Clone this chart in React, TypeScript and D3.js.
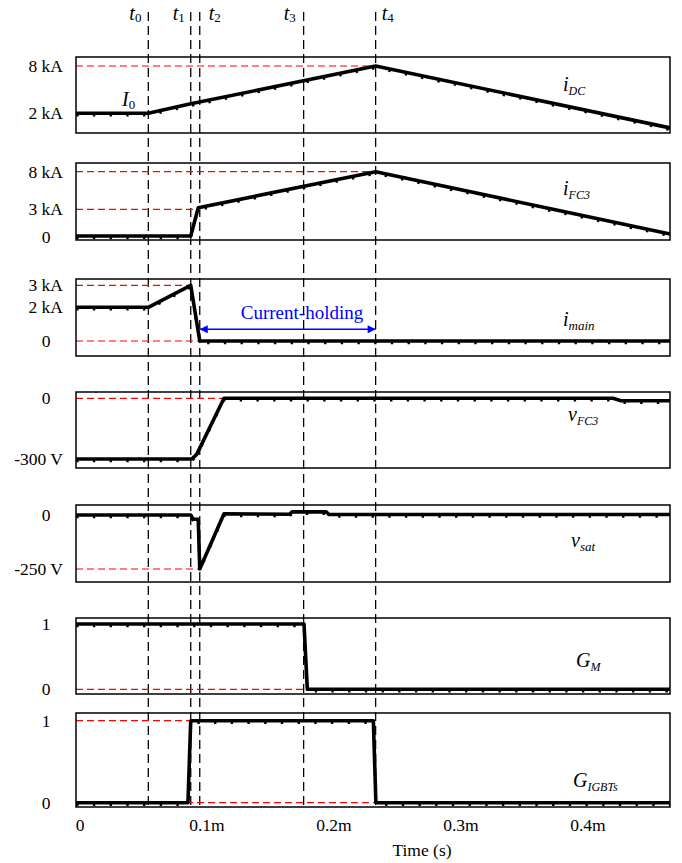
import React from "react";
import * as d3 from "d3";

const W = 682;
const H = 863;
const X_LEFT = 76;
const X_RIGHT = 670;
const T_MIN = -0.00315;
const T_MAX = 0.4646;

// time markers (ms)
const timeMarks = [0.0538, 0.0872, 0.0943, 0.1761, 0.2328];
const timeMarkSubs = ["0", "1", "2", "3", "4"];
const timeMarkLabelOffsets = [-19, -18, 9, -20, 6];

const xTickValues = [0, 0.1, 0.2, 0.3, 0.4];
const xTickLabels = ["0", "0.1m", "0.2m", "0.3m", "0.4m"];

// series data [time (ms), value]
const iDC: [number, number][] = [[-0.003, 2], [0.0538, 2], [0.0872, 3.2], [0.2328, 8], [0.4646, 0.15]];
const iFC3: [number, number][] = [[-0.003, 0.05], [0.0872, 0.05], [0.0931, 3.2], [0.2328, 8], [0.3724, 3], [0.4646, 0.28]];
const iMain: [number, number][] = [[-0.003, 2], [0.0538, 2], [0.0872, 3], [0.0943, 0], [0.4646, 0]];
const vFC3: [number, number][] = [[-0.003, -300], [0.088, -300], [0.0919, -277], [0.1134, 0], [0.4197, 0], [0.426, -12], [0.4646, -12]];
const vSat: [number, number][] = [[-0.003, -2], [0.0872, -2], [0.0892, -22], [0.0931, -22], [0.0943, -250], [0.1134, 3], [0.165, 1], [0.167, 12], [0.194, 12], [0.196, 0], [0.4646, 0]];
const gM: [number, number][] = [[-0.003, 1], [0.1764, 1], [0.179, 0], [0.4646, 0]];
const gIGBTs: [number, number][] = [[-0.003, 0], [0.085, 0], [0.0872, 1], [0.231, 1], [0.233, 0], [0.4646, 0]];

const panels = [
  {
    data: iDC, top: 57, bottom: 133, yDomain: [2, 8], yRange: [113.3, 66],
    ticks: [{ v: 8, l: "8 kA" }, { v: 2, l: "2 kA" }],
    refs: [{ v: 8, t: 0.2328 }],
    name: "i", sub: "DC", lx: 563, ly: 91, subSize: 12,
  },
  {
    data: iFC3, top: 163, bottom: 240, yDomain: [0, 3, 8], yRange: [236.5, 209.3, 171.7],
    ticks: [{ v: 8, l: "8 kA" }, { v: 3, l: "3 kA" }, { v: 0, l: "0" }],
    refs: [{ v: 8, t: 0.2328 }, { v: 3, t: 0.0943 }],
    name: "i", sub: "FC3", lx: 563, ly: 195, subSize: 12,
  },
  {
    data: iMain, top: 279, bottom: 356, yDomain: [0, 2, 3], yRange: [341, 307.3, 285.3],
    ticks: [{ v: 3, l: "3 kA" }, { v: 2, l: "2 kA" }, { v: 0, l: "0" }],
    refs: [{ v: 3, t: 0.0872 }, { v: 0, t: 0.0943 }],
    name: "i", sub: "main", lx: 563, ly: 326, subSize: 13,
  },
  {
    data: vFC3, top: 392, bottom: 468, yDomain: [-300, 0], yRange: [459, 398.3],
    ticks: [{ v: 0, l: "0" }, { v: -300, l: "-300 V" }],
    refs: [{ v: 0, t: 0.1134 }],
    name: "v", sub: "FC3", lx: 568, ly: 421, subSize: 12,
  },
  {
    data: vSat, top: 505, bottom: 582, yDomain: [-250, 0], yRange: [569, 514.5],
    ticks: [{ v: 0, l: "0" }, { v: -250, l: "-250 V" }],
    refs: [{ v: -250, t: 0.0943 }],
    name: "v", sub: "sat", lx: 571, ly: 547, subSize: 13,
  },
  {
    data: gM, top: 618, bottom: 694, yDomain: [0, 1], yRange: [689.3, 624],
    ticks: [{ v: 1, l: "1" }, { v: 0, l: "0" }],
    refs: [{ v: 0, t: 0.1761 }],
    name: "G", sub: "M", lx: 576, ly: 667, subSize: 12,
  },
  {
    data: gIGBTs, top: 713, bottom: 807, yDomain: [0, 1], yRange: [802.7, 720.7],
    ticks: [{ v: 1, l: "1" }, { v: 0, l: "0" }],
    refs: [{ v: 1, t: 0.0872 }, { v: 0, t: 0.2328 }],
    name: "G", sub: "IGBTs", lx: 573, ly: 787, subSize: 12,
  },
];

const FONT = '"Liberation Serif", "Times New Roman", Times, serif';
const tStyle: React.CSSProperties = { fontFamily: FONT };

export default function App() {
  const x = d3.scaleLinear().domain([T_MIN, T_MAX]).range([X_LEFT, X_RIGHT]);
  const lineTop = 12;
  const lineBottom = panels[panels.length - 1].bottom;

  return (
    <svg width={W} height={H} style={{ position: "absolute", left: 0, top: 0, background: "#fff", fontFamily: FONT }}>
      <rect x={0} y={0} width={W} height={H} fill="#fff" />
      {timeMarks.map((t, i) => (
        <g key={"tm" + i}>
          <line x1={x(t)} x2={x(t)} y1={lineTop} y2={lineBottom} stroke="#000" strokeWidth={1.3} strokeDasharray="9 5" />
          <text x={x(t) + timeMarkLabelOffsets[i]} y={20} fontSize={20} fontStyle="italic" style={tStyle}>
            t<tspan fontSize={13} fontStyle="normal" dy={2}>{timeMarkSubs[i]}</tspan>
          </text>
        </g>
      ))}
      {panels.map((p, pi) => {
        const y = d3.scaleLinear().domain(p.yDomain).range(p.yRange);
        const line = d3.line<[number, number]>().x((d) => x(d[0])).y((d) => y(d[1]));
        const path = line(p.data) || "";
        return (
          <g key={"p" + pi}>
            {p.refs.map((r, ri) => (
              <line key={"r" + ri} x1={X_LEFT} x2={x(r.t)} y1={y(r.v)} y2={y(r.v)} stroke="#ff0000" strokeWidth={1.2} strokeDasharray="7 4" />
            ))}
            <rect x={X_LEFT} y={p.top} width={X_RIGHT - X_LEFT} height={p.bottom - p.top} fill="none" stroke="#000" strokeWidth={1.5} />
            <path d={path} fill="none" stroke="#000" strokeWidth={3.6} strokeLinejoin="round" />
            <path d={path} transform="translate(0,2)" fill="none" stroke="#000" strokeWidth={2.4} strokeDasharray="2.4 14.3" />
            {p.ticks.map((tk, ti) => {
              const isBare = tk.l === "0" || tk.l === "1";
              return (
                <text key={"tk" + ti} x={isBare ? 46 : 63} y={y(tk.v)} dy="0.35em" textAnchor={isBare ? "middle" : "end"} fontSize={17.5} style={tStyle}>
                  {tk.l}
                </text>
              );
            })}
            <text x={p.lx} y={p.ly} fontSize={20} fontStyle="italic" style={tStyle}>
              {p.name}
              <tspan fontSize={p.subSize} dy={4}>{p.sub}</tspan>
            </text>
          </g>
        );
      })}
      <text x={122} y={106} fontSize={20} fontStyle="italic" style={tStyle}>
        I<tspan fontSize={13} fontStyle="normal" dy={3}>0</tspan>
      </text>
      <defs>
        <marker id="arrB" viewBox="0 0 10 10" refX={10} refY={5} markerWidth={10} markerHeight={8} orient="auto-start-reverse" markerUnits="userSpaceOnUse">
          <path d="M0,0 L10,5 L0,10 Z" fill="#0000ff" />
        </marker>
      </defs>
      <line x1={x(timeMarks[2])} x2={x(timeMarks[4])} y1={329.3} y2={329.3} stroke="#0000ff" strokeWidth={1.5} markerStart="url(#arrB)" markerEnd="url(#arrB)" />
      <text x={302} y={319} textAnchor="middle" fontSize={19} fill="#0000ff" style={tStyle}>
        Current-holding
      </text>
      {xTickValues.map((v, i) => (
        <text key={"xt" + i} x={x(v)} y={831} textAnchor="middle" fontSize={17.5} style={tStyle}>
          {xTickLabels[i]}
        </text>
      ))}
      <text x={422} y={856} textAnchor="middle" fontSize={17.5} style={tStyle}>
        Time (s)
      </text>
    </svg>
  );
}
